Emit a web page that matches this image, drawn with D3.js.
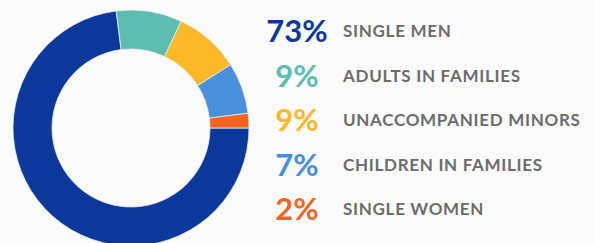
<!DOCTYPE html>
<html><head><meta charset="utf-8">
<script src="https://cdn.jsdelivr.net/npm/d3@7"></script>
<style>
html,body{margin:0;padding:0;background:#fbfbfb;}
svg{display:block;}
</style></head>
<body>
<script>
const categories = ["SINGLE MEN","ADULTS IN FAMILIES","UNACCOMPANIED MINORS","CHILDREN IN FAMILIES","SINGLE WOMEN"];
const values = [73, 9, 9, 7, 2];
const colors = ["#0b389a","#5dbdb1","#fbb829","#4a8fdb","#f4631f"];

const W = 595, H = 243;
const svg = d3.select("body").append("svg").attr("width", W).attr("height", H);
svg.append("rect").attr("width", W).attr("height", H).attr("fill", "#fbfbfb");

const cx = 131, cy = 128, rOuter = 118, rInner = 79;
const pie = d3.pie().sort(null).value(d => d)
  .startAngle(Math.PI / 2).endAngle(Math.PI / 2 + 2 * Math.PI);
const arc = d3.arc().innerRadius(rInner).outerRadius(rOuter);
const color = d3.scaleOrdinal().domain(categories).range(colors);

svg.append("g").attr("transform", `translate(${cx},${cy})`)
  .selectAll("path").data(pie(values)).join("path")
  .attr("d", arc)
  .attr("fill", (d, i) => color(categories[i]))
  .attr("stroke", "#e8eef0").attr("stroke-width", 0.8);

const y = d3.scalePoint().domain(categories).range([42, 220]);
const rows = svg.append("g").selectAll("g").data(categories).join("g")
  .attr("transform", c => `translate(0,${y(c)})`);

rows.append("text")
  .attr("x", 297).attr("text-anchor", "middle")
  .attr("font-family", "Lato, 'Open Sans', sans-serif")
  .attr("font-size", 31).attr("font-weight", 700)
  .attr("fill", c => color(c))
  .text((c, i) => values[i] + "%");

rows.append("text")
  .attr("x", 343).attr("y", -5)
  .attr("font-family", "Lato, 'Open Sans', sans-serif")
  .attr("font-size", 17).attr("font-weight", 700)
  .attr("letter-spacing", 0.7)
  .attr("fill", "#6b6b6b")
  .text(c => c);
</script>
</body></html>
